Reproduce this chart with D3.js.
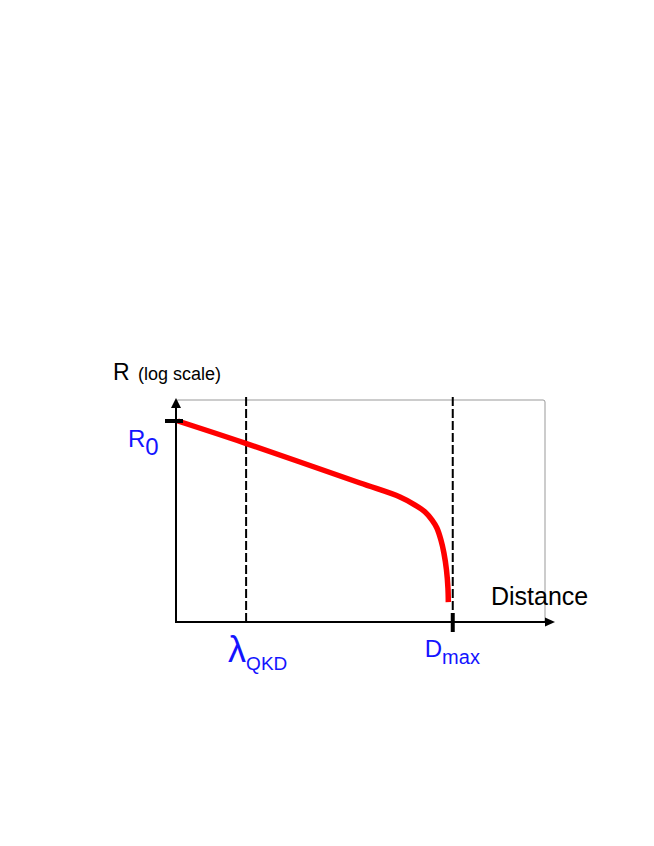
<!DOCTYPE html>
<html>
<head>
<meta charset="utf-8">
<script src="https://cdn.jsdelivr.net/npm/d3@7"></script>
<style>
  body { margin: 0; background: white; }
  text { font-family: "Liberation Sans", Arial, sans-serif; }
</style>
</head>
<body>
<svg width="654" height="846"></svg>
<script>
// schematic key rate vs distance
const distance = [0.5, 18.7, 49.9, 60.7, 64.8, 67.5, 69.4, 70.7, 71.8, 72.6, 73.3, 73.7, 73.8];
const rate = [0.175, 0.028, 1.02e-3, 3.2e-4, 1.64e-4, 9.2e-5, 4.7e-5, 2.44e-5, 9.0e-6, 3.1e-6, 7.5e-7, 1.68e-7, 5.2e-8];

const R0 = 0.175;
const lambdaQKD = 19;
const dMax = 75;

const svg = d3.select('svg');
const height = +svg.attr('height');
const width = +svg.attr('width');

const x = d3.scaleLinear().domain([0, 100]).range([176, 545]);
const y = d3.scaleLog().domain([1e-8, 1]).range([622, 400]);

const blue = '#1414ff';

// gray frame
svg.append('rect')
    .attr('x', x(0))
    .attr('y', y(1))
    .attr('width', x(100) - x(0))
    .attr('height', y(1e-8) - y(1))
    .attr('rx', 2)
    .attr('fill', 'none')
    .attr('stroke', '#999')
    .attr('stroke-width', 1);

// dashed markers
svg.selectAll('line.marker')
    .data([lambdaQKD, dMax])
  .enter().append('line')
    .attr('class', 'marker')
    .attr('x1', d => x(d))
    .attr('x2', d => x(d))
    .attr('y1', y(1) - 3)
    .attr('y2', y(1e-8))
    .attr('stroke', 'black')
    .attr('stroke-width', 2)
    .attr('stroke-dasharray', '9,3');

// axes with arrows
svg.append('line')
    .attr('x1', x(0)).attr('x2', x(0))
    .attr('y1', y(1e-8) + 1).attr('y2', 407)
    .attr('stroke', 'black').attr('stroke-width', 2);
svg.append('path')
    .attr('d', `M${x(0)},398 L${x(0) - 5},408 L${x(0) + 5},408 Z`)
    .attr('fill', 'black');

svg.append('line')
    .attr('x1', x(0) - 1).attr('x2', 547)
    .attr('y1', y(1e-8)).attr('y2', y(1e-8))
    .attr('stroke', 'black').attr('stroke-width', 2);
svg.append('path')
    .attr('d', `M555,${y(1e-8)} L545,${y(1e-8) - 4.5} L545,${y(1e-8) + 4.5} Z`)
    .attr('fill', 'black');

// red rate curve
const line = d3.line()
    .x((d, i) => x(distance[i]))
    .y(d => y(d))
    .curve(d3.curveCatmullRom.alpha(0.5));

svg.append('path')
    .attr('d', line(rate))
    .attr('fill', 'none')
    .attr('stroke', '#ff0000')
    .attr('stroke-width', 5.5);

// ticks for R0 and Dmax
svg.append('line')
    .attr('x1', x(0) - 11).attr('x2', x(0) + 7)
    .attr('y1', y(R0)).attr('y2', y(R0))
    .attr('stroke', 'black').attr('stroke-width', 4);
svg.append('line')
    .attr('x1', x(dMax)).attr('x2', x(dMax))
    .attr('y1', y(1e-8) - 9).attr('y2', y(1e-8) + 10)
    .attr('stroke', 'black').attr('stroke-width', 4);

// labels
svg.append('text').attr('x', 113).attr('y', 380)
    .attr('font-size', 23).text('R');
svg.append('text').attr('x', 138).attr('y', 380)
    .attr('font-size', 18).text('(log scale)');

svg.append('text')
    .attr('x', 491).attr('y', 605)
    .attr('font-size', 25)
    .text('Distance');

const r0 = svg.append('text').attr('x', 128).attr('y', y(R0) + 26).attr('fill', blue).attr('font-size', 24);
r0.append('tspan').text('R');
r0.append('tspan').attr('dy', 8).text('0');

const lam = svg.append('text').attr('x', x(lambdaQKD) - 18).attr('y', 662).attr('fill', blue);
lam.append('tspan').attr('font-size', 36).text('λ');
lam.append('tspan').attr('font-size', 19).attr('dy', 8).text('QKD');

const dm = svg.append('text').attr('x', x(dMax) - 28).attr('y', 657).attr('fill', blue);
dm.append('tspan').attr('font-size', 24).text('D');
dm.append('tspan').attr('font-size', 20).attr('dy', 7).text('max');
</script>
</body>
</html>
